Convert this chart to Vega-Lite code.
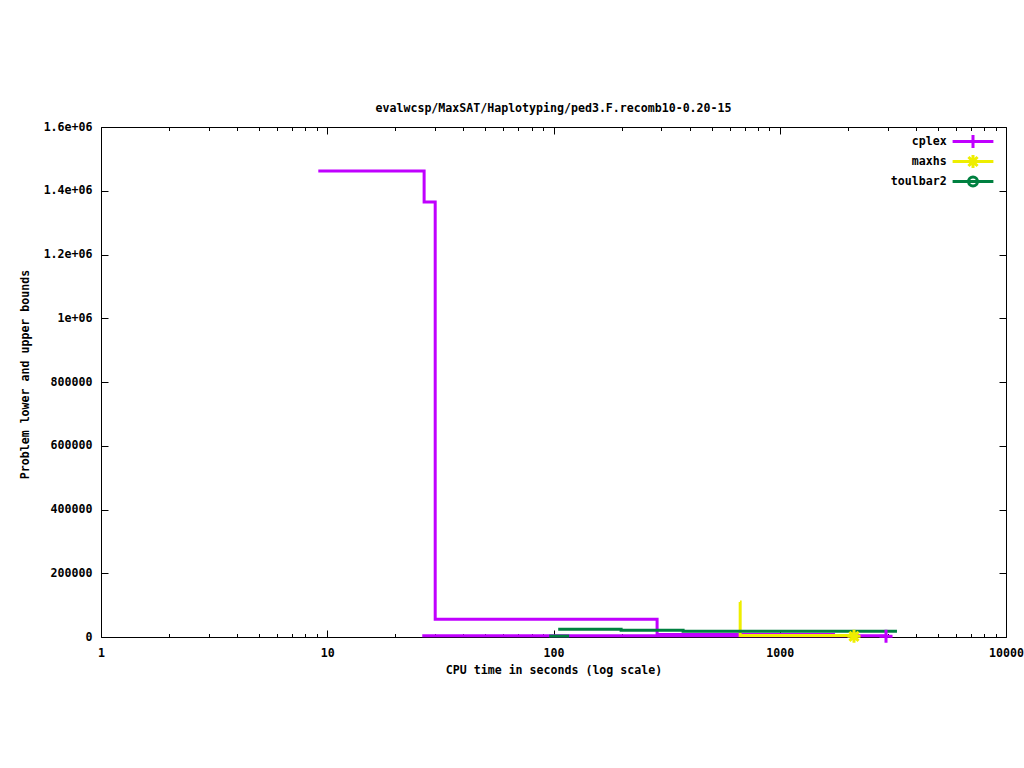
{
  "$schema": "https://vega.github.io/schema/vega-lite/v6.json",
  "width": 905,
  "height": 510,
  "autosize": {"type": "none"},
  "padding": {"left": 101, "top": 127, "right": 18, "bottom": 131},
  "background": "white",
  "config": {
    "view": {"stroke": "black", "strokeWidth": 1},
    "font": "DejaVu Sans Mono",
    "axis": {
      "grid": false,
      "domain": false,
      "tickColor": "black",
      "tickWidth": 1,
      "labelFont": "DejaVu Sans Mono",
      "labelFontSize": 11.6,
      "labelFontWeight": "bold",
      "labelColor": "black",
      "titleFont": "DejaVu Sans Mono",
      "titleFontSize": 11.6,
      "titleFontWeight": "bold",
      "titleColor": "black"
    },
    "legend": {
      "orient": "none", "legendX": 864.5, "legendY": 7, "title": null, "padding": 0,
      "labelAlign": "right", "labelOffset": -33.8, "labelFont": "DejaVu Sans Mono",
      "labelFontSize": 11.6, "labelFontWeight": "bold", "labelColor": "black",
      "rowPadding": -12.3, "symbolStrokeWidth": 3, "symbolSize": 144, "symbolOpacity": 1,
      "symbolFillColor": "transparent"
    }
  },
  "title": {
    "text": "evalwcsp/MaxSAT/Haplotyping/ped3.F.recomb10-0.20-15",
    "font": "DejaVu Sans Mono",
    "fontSize": 11.6,
    "fontWeight": "bold",
    "color": "black",
    "baseline": "bottom",
    "offset": -5
  },
  "datasets": {
    "bounds": [
      {"solver": "cplex", "series": "cplex-ub", "t": 9.13, "v": 1462000},
      {"solver": "cplex", "series": "cplex-ub", "t": 26.8, "v": 1364500},
      {"solver": "cplex", "series": "cplex-ub", "t": 30.0, "v": 55900},
      {"solver": "cplex", "series": "cplex-ub", "t": 287, "v": 7800},
      {"solver": "cplex", "series": "cplex-ub", "t": 1754, "v": 7800},
      {"solver": "cplex", "series": "cplex-lb", "t": 26.3, "v": 4000},
      {"solver": "cplex", "series": "cplex-lb", "t": 2949, "v": 4000},
      {"solver": "maxhs", "series": "maxhs-ub", "t": 667, "v": 110000},
      {"solver": "maxhs", "series": "maxhs-ub", "t": 668.5, "v": 4500},
      {"solver": "maxhs", "series": "maxhs-ub", "t": 2129, "v": 4500},
      {"solver": "toulbar2", "series": "toulbar2-ub", "t": 104.9, "v": 24200},
      {"solver": "toulbar2", "series": "toulbar2-ub", "t": 199, "v": 21000},
      {"solver": "toulbar2", "series": "toulbar2-ub", "t": 374, "v": 17900},
      {"solver": "toulbar2", "series": "toulbar2-ub", "t": 3297, "v": 17900},
      {"solver": "toulbar2", "series": "toulbar2-lb", "t": 95.7, "v": 3000},
      {"solver": "toulbar2", "series": "toulbar2-lb", "t": 117.3, "v": 3000}
    ],
    "marks": [
      {"solver": "cplex", "t": 2949, "v": 2000},
      {"solver": "maxhs", "t": 2129, "v": 2000}
    ]
  },
  "layer": [
    {
      "data": {"name": "bounds"},
      "mark": {"type": "line", "interpolate": "step-after", "strokeWidth": 3, "strokeJoin": "miter", "strokeCap": "butt"},
      "encoding": {
        "x": {
          "field": "t", "type": "quantitative",
          "scale": {"type": "log", "domain": [1, 10000], "nice": false},
          "axis": {
            "orient": "bottom", "values": [1, 10, 100, 1000, 10000], "format": "d",
            "tickSize": -7, "labelPadding": 17, "labelFlush": false, "labelOverlap": false,
            "title": "CPU time in seconds (log scale)", "titleX": 452.5, "titleY": 33,
            "titleBaseline": "middle", "titleAlign": "center"
          }
        },
        "y": {
          "field": "v", "type": "quantitative",
          "scale": {"domain": [0, 1600000], "nice": false},
          "axis": {
            "orient": "left",
            "values": [0, 200000, 400000, 600000, 800000, 1000000, 1200000, 1400000, 1600000],
            "labelExpr": "datum.value >= 1000000 ? (datum.value / 1000000) + 'e+06' : '' + datum.value",
            "tickSize": -7, "labelPadding": 16, "labelOverlap": false, "labelFlush": false,
            "title": "Problem lower and upper bounds", "titleX": -76, "titleY": 247,
            "titleAngle": 270, "titleBaseline": "middle", "titleAlign": "center"
          }
        },
        "color": {
          "field": "solver", "type": "nominal",
          "scale": {"domain": ["cplex", "maxhs", "toulbar2"], "range": ["#c000ff", "#eeee00", "#008040"]}
        },
        "detail": {"field": "series"}
      }
    },
    {
      "data": {"name": "marks"},
      "transform": [{"filter": "datum.solver === 'cplex'"}],
      "mark": {"type": "point", "filled": false, "strokeWidth": 3, "size": 169, "opacity": 1, "shape": "M-1,0H1M0,-1V1"},
      "encoding": {
        "x": {
          "field": "t", "type": "quantitative",
          "axis": {"orient": "top", "values": [1, 10, 100, 1000, 10000], "tickSize": -7, "labels": false, "title": null}
        },
        "y": {
          "field": "v", "type": "quantitative",
          "axis": {
            "orient": "right",
            "values": [0, 200000, 400000, 600000, 800000, 1000000, 1200000, 1400000, 1600000],
            "tickSize": -7, "labels": false, "title": null
          }
        },
        "color": {"field": "solver", "type": "nominal"}
      }
    },
    {
      "data": {"name": "marks"},
      "transform": [{"filter": "datum.solver === 'maxhs'"}],
      "mark": {"type": "point", "filled": false, "strokeWidth": 3, "size": 169, "opacity": 1, "shape": "M-1,0H1M0,-1V1M-0.7,-0.7L0.7,0.7M-0.7,0.7L0.7,-0.7"},
      "encoding": {
        "x": {"field": "t", "type": "quantitative", "axis": null},
        "y": {"field": "v", "type": "quantitative", "axis": null},
        "color": {"field": "solver", "type": "nominal"}
      }
    },
    {
      "data": {"name": "marks"},
      "transform": [{"filter": "false"}],
      "mark": {"type": "point", "filled": false, "strokeWidth": 3, "size": 144, "opacity": 1},
      "encoding": {
        "color": {"field": "solver", "type": "nominal"},
        "shape": {
          "field": "solver", "type": "nominal",
          "scale": {
            "domain": ["cplex", "maxhs", "toulbar2"],
            "range": [
              "M-3.4,0H3.4M0,-1.08V1.08",
              "M-3.4,0H3.4M0,-1.08V1.08M-0.76,-0.76L0.76,0.76M-0.76,0.76L0.76,-0.76",
              "M-3.4,0H3.4M0.75,0A0.75,0.75,0,1,1,-0.75,0A0.75,0.75,0,1,1,0.75,0"
            ]
          }
        }
      }
    },
    {
      "data": {"name": "marks"},
      "mark": {"type": "point", "opacity": 0},
      "encoding": {
        "x": {
          "field": "t", "type": "quantitative",
          "axis": {
            "orient": "bottom",
            "values": [2, 3, 4, 5, 6, 7, 8, 9, 20, 30, 40, 50, 60, 70, 80, 90, 200, 300, 400, 500, 600, 700, 800, 900, 2000, 3000, 4000, 5000, 6000, 7000, 8000, 9000],
            "tickSize": -3.5, "labels": false, "title": null
          }
        }
      }
    },
    {
      "data": {"name": "marks"},
      "mark": {"type": "point", "opacity": 0},
      "encoding": {
        "x": {
          "field": "t", "type": "quantitative",
          "axis": {
            "orient": "top",
            "values": [2, 3, 4, 5, 6, 7, 8, 9, 20, 30, 40, 50, 60, 70, 80, 90, 200, 300, 400, 500, 600, 700, 800, 900, 2000, 3000, 4000, 5000, 6000, 7000, 8000, 9000],
            "tickSize": -3.5, "labels": false, "title": null
          }
        }
      }
    }
  ],
  "resolve": {"axis": {"x": "independent", "y": "independent"}}
}
